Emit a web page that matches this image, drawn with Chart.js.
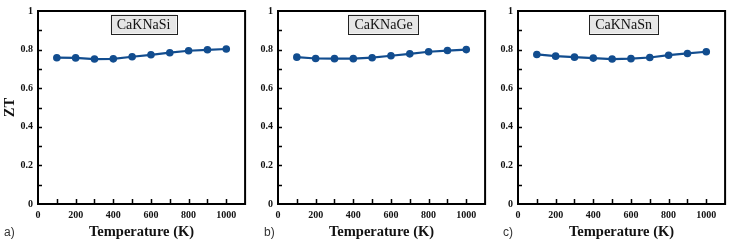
<!DOCTYPE html>
<html><head><meta charset="utf-8">
<script src="https://cdn.jsdelivr.net/npm/chart.js@4"></script>
<style>
html,body{margin:0;padding:0;background:#fff;}
#wrap{position:relative;width:736px;height:241px;overflow:hidden;}
.pane{position:absolute;top:0;height:241px;}
.letter{position:absolute;top:225px;font-family:"Liberation Sans",Arial,sans-serif;font-size:12px;color:#333;}
</style></head><body>
<div id="wrap">
  <div class="pane" style="left:0;width:250px"><canvas id="c0" width="250" height="241"></canvas></div>
  <div class="pane" style="left:240px;width:250px"><canvas id="c1" width="250" height="241"></canvas></div>
  <div class="pane" style="left:480px;width:250px"><canvas id="c2" width="250" height="241"></canvas></div>
  <div class="letter" style="left:4px">a)</div>
  <div class="letter" style="left:264px">b)</div>
  <div class="letter" style="left:503px">c)</div>
</div>
<script>
const temperatures = [100,200,300,400,500,600,700,800,900,1000];
const ztCaKNaSi = [0.758,0.757,0.751,0.752,0.763,0.773,0.784,0.794,0.799,0.803];
const ztCaKNaGe = [0.761,0.754,0.753,0.753,0.758,0.768,0.778,0.789,0.795,0.800];
const ztCaKNaSn = [0.775,0.766,0.761,0.756,0.751,0.753,0.759,0.771,0.780,0.789];
const compounds = ['CaKNaSi','CaKNaGe','CaKNaSn'];
const xTickLabels = [0,200,400,600,800,1000];
const yTickLabels = [0,0.2,0.4,0.6,0.8,1];

const lineColor = '#124d8f';
const serif = '"Liberation Serif","Times New Roman",serif';

const framePlugin = {
  id:'frame',
  afterDraw(chart, args, opts){
    const {ctx, chartArea:a, scales:{x,y}} = chart;
    ctx.save();
    ctx.strokeStyle='#000';
    ctx.lineWidth=2;
    ctx.strokeRect(a.left, a.top, a.right-a.left, a.bottom-a.top);
    ctx.lineWidth=1.5;
    ctx.beginPath();
    for(let v=100; v<=1000; v+=100){
      const px = Math.round(x.getPixelForValue(v))+0.5;
      ctx.moveTo(px, a.bottom); ctx.lineTo(px, a.bottom-5);
    }
    for(let k=1; k<=9; k++){
      const py = Math.round(y.getPixelForValue(k/10))+0.5;
      ctx.moveTo(a.left, py); ctx.lineTo(a.left+4, py);
    }
    ctx.stroke();
    const cx = (a.left+a.right)/2 + 2;
    ctx.font = '14px '+serif;
    const w = ctx.measureText(opts.label).width + 12;
    const h = 19;
    const top = a.top + 3.5;
    ctx.fillStyle='#e6e6e6';
    ctx.fillRect(cx-w/2, top, w, h);
    ctx.lineWidth=1;
    ctx.strokeStyle='#222';
    ctx.strokeRect(Math.round(cx-w/2)+0.5, Math.round(top)+0.5, Math.round(w), h);
    ctx.fillStyle='#111';
    ctx.textAlign='center'; ctx.textBaseline='middle';
    ctx.fillText(opts.label, cx, top+h/2+1);
    ctx.restore();
  }
};

function makeChart(id, values, label, showY){
  new Chart(document.getElementById(id), {
    type:'line',
    data:{datasets:[{data: temperatures.map((t,i)=>({x:t,y:values[i]})),
      borderColor:lineColor, backgroundColor:lineColor, borderWidth:2.2,
      pointRadius:2.7, pointHoverRadius:2.7, tension:0}]},
    options:{
      responsive:false, animation:false,
      layout:{padding:{top:10,right:2,left:0,bottom:0}},
      plugins:{legend:{display:false}, tooltip:{enabled:false}, frame:{label}},
      scales:{
        x:{type:'linear', min:0, max:1100,
          grid:{display:false, drawTicks:false}, border:{display:false},
          afterFit(s){ s.height = 37; },
          afterBuildTicks(s){ s.ticks = xTickLabels.map(v=>({value:v})); },
          ticks:{padding:5, color:'#111', maxRotation:0, autoSkip:false,
            font:{family:serif, size:10, weight:'bold'},
            callback:v=>String(v)},
          title:{display:true, text:'Temperature (K)', color:'#111',
            font:{family:serif, size:14.5, weight:'bold'}, padding:{top:0,bottom:0}}
        },
        y:{type:'linear', min:0, max:1,
          grid:{display:false, drawTicks:false}, border:{display:false},
          afterFit(s){ s.width = 38; },
          afterBuildTicks(s){ s.ticks = yTickLabels.map(v=>({value:v})); },
          ticks:{padding:5, color:'#111', autoSkip:false,
            font:{family:serif, size:10, weight:'bold'},
            callback:v=>String(v)},
          title:{display:showY, text:'ZT', color:'#111',
            font:{family:serif, size:14.5, weight:'bold'}, padding:{top:2,bottom:0}}
        }
      }
    },
    plugins:[framePlugin]
  });
}
makeChart('c0', ztCaKNaSi, compounds[0], true);
makeChart('c1', ztCaKNaGe, compounds[1], false);
makeChart('c2', ztCaKNaSn, compounds[2], false);
</script>
</body></html>
